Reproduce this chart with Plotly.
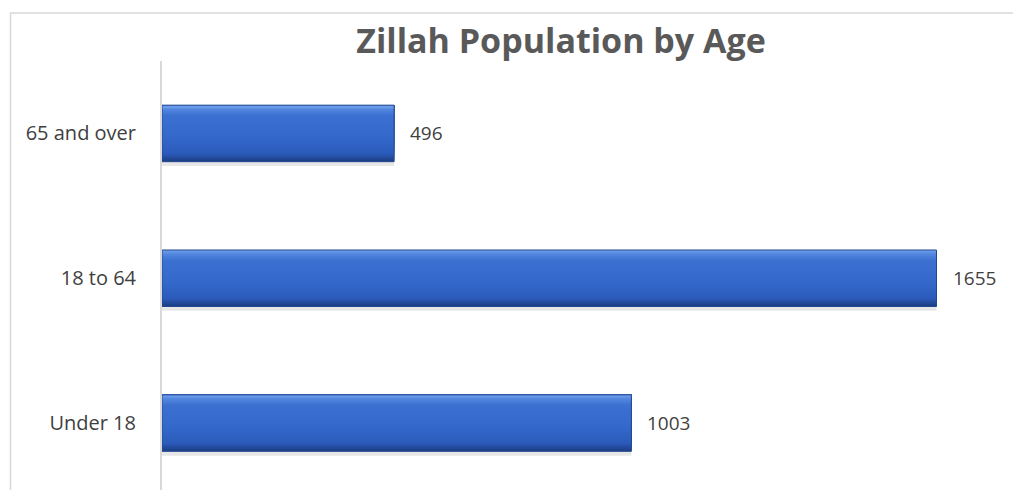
import plotly.graph_objects as go

categories = ["Under 18", "18 to 64", "65 and over"]
values = [1003, 1655, 496]
title_text = "Zillah Population by Age"

# page body has an 8px margin; work in reference pixels and shift
SH = 8
W, H = 1021 - SH, 490 - SH
ml, mr, mt, mb = 162 - SH, 11, 60.5 - SH, 0

fig = go.Figure()

bar_w = 0.39
half = bar_w / 2

# soft shadow beneath bars
fig.add_trace(go.Bar(y=categories, x=values, orientation="h",
                     width=0.035, offset=-half - 0.03,
                     marker=dict(color="rgba(120,120,120,0.18)", line=dict(width=0)),
                     hoverinfo="skip", showlegend=False))

# vertical gradient (t = 0 top, 1 bottom)
stops = [
    (0.00, (112, 160, 236)),
    (0.07, (84, 135, 222)),
    (0.18, (60, 113, 210)),
    (0.60, (51, 103, 201)),
    (0.86, (43, 91, 186)),
    (1.00, (27, 60, 128)),
]

def col_at(t):
    for (t0, c0), (t1, c1) in zip(stops[:-1], stops[1:]):
        if t0 <= t <= t1:
            f = (t - t0) / (t1 - t0) if t1 > t0 else 0
            return "rgb(%d,%d,%d)" % tuple(round(a + (b - a) * f) for a, b in zip(c0, c1))
    return "rgb(%d,%d,%d)" % stops[-1][1]

# overlapping layers anchored at the top edge: no seams
n = 30
for i in range(n):
    frac = 1 - i / n  # portion of bar height from the top
    wdt = bar_w * frac
    fig.add_trace(go.Bar(y=categories, x=values, orientation="h",
                         width=wdt, offset=half - wdt,
                         marker=dict(color=col_at(frac - 0.5 / n), line=dict(width=0)),
                         hoverinfo="skip", showlegend=False))

# outline
fig.add_trace(go.Bar(y=categories, x=values, orientation="h",
                     width=bar_w, offset=-half,
                     marker=dict(color="rgba(0,0,0,0)", line=dict(color="#23488f", width=1)),
                     hoverinfo="skip", showlegend=False))

for c, v in zip(categories, values):
    fig.add_annotation(x=v, y=c, text=str(v), showarrow=False,
                       xanchor="left", xshift=14,
                       font=dict(family="Open Sans", size=19, color="#404040"))

# outer chart border (extends beyond image edges)
pw = W - ml - mr
ph = H - mt - mb
def px(xp):
    return (xp - SH - ml) / pw
def py(yp):
    return (H - mb - (yp - SH)) / ph

fig.add_shape(type="rect", xref="paper", yref="paper",
              x0=px(10.5), x1=px(1060), y0=py(540), y1=py(12.5),
              line=dict(color="#d9d9d9", width=1.5), fillcolor="rgba(0,0,0,0)", layer="below")

fig.update_layout(
    width=W, height=H,
    margin=dict(l=ml, r=mr, t=mt, b=mb, pad=0),
    paper_bgcolor="white", plot_bgcolor="white",
    barmode="overlay",
    title=dict(text="<b>" + title_text + "</b>", x=(561 - SH) / W, xanchor="center",
               y=1 - (41 - SH) / H, yanchor="middle",
               font=dict(family="Open Sans", size=34, color="#595959")),
    xaxis=dict(range=[0, (1010 - 162.5) / 0.4677], showgrid=False, zeroline=False,
               showticklabels=False, showline=False, fixedrange=True),
    yaxis=dict(categoryorder="array", categoryarray=categories,
               range=[-0.462, 2.5], showgrid=False, zeroline=False,
               showline=True, linecolor="#d9d9d9", linewidth=2,
               ticks="", ticklabelstandoff=20,
               tickfont=dict(family="Open Sans", size=20, color="#404040")),
    font=dict(family="Open Sans"),
)

fig.write_html("out.html")
